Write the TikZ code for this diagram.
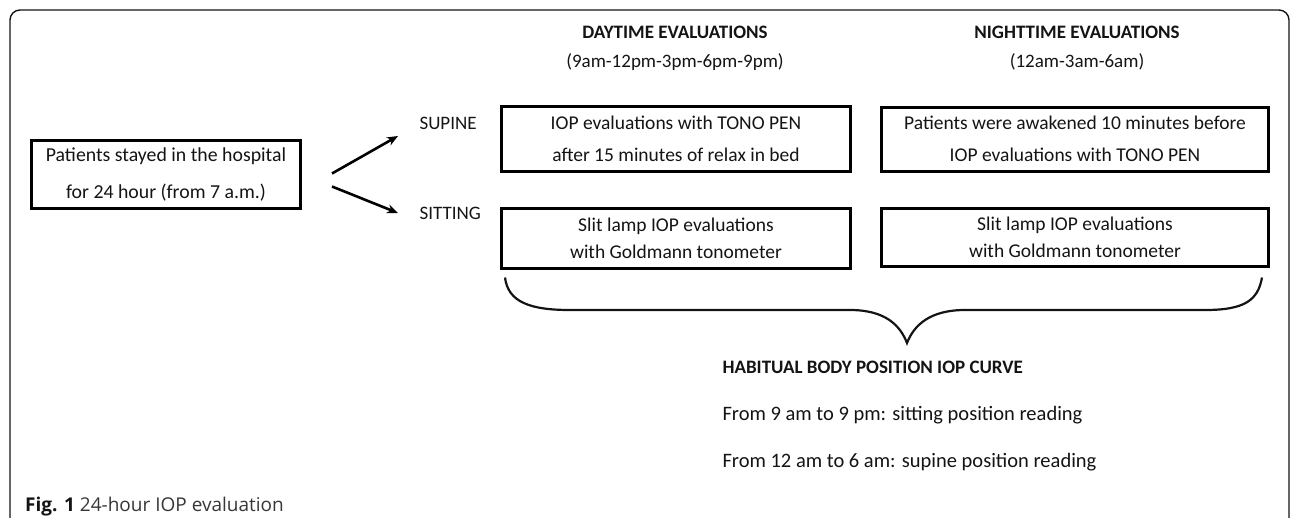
\documentclass[tikz,border=0pt]{standalone}
\usepackage{fontspec}
\setmainfont{Carlito}
\newfontfamily\capfont{Open Sans}
\usetikzlibrary{arrows.meta}
\definecolor{ink}{HTML}{141414}
\tikzset{
  box/.style={draw, line width=3pt, align=center, inner sep=0pt, text=ink},
  lbl/.style={text=ink, font=\fontsize{19}{20}\selectfont},
  arr/.style={line width=2.6pt, -{Stealth[length=11pt,width=9pt]}},
}
\begin{document}
\begin{tikzpicture}[x=1pt, y=-1pt]
	\useasboundingbox (0,0) rectangle (1290,517);
	\draw[line width=1.4pt, rounded corners=10pt, ink] (10,520) -- (10,10) -- (1289,10) -- (1289,520);
	% column headers
	\node[lbl, align=center, font=\fontsize{19}{29}\selectfont] (dayhead) at (675,48) {\textbf{DAYTIME EVALUATIONS}\\(9am-12pm-3pm-6pm-9pm)};
	\node[lbl, align=center, font=\fontsize{19}{29}\selectfont] (nighthead) at (1077,48) {\textbf{NIGHTTIME EVALUATIONS}\\(12am-3am-6am)};
	% boxes
	\node[box, minimum width=269, minimum height=68, font=\fontsize{19.8}{37}\selectfont] (stay) at (166,174.5) {Patients stayed in the hospital\\for 24 hour (from 7 a.m.)};
	\node[lbl, anchor=west] (supine) at (416,123) {SUPINE};
	\node[lbl, anchor=west] (sitting) at (416,213) {SITTING};
	\node[box, minimum width=349, minimum height=65, font=\fontsize{19.5}{32}\selectfont] (daysup) at (676,139) {IOP evaluations with TONO PEN\\after 15 minutes of relax in bed};
	\node[box, minimum width=349, minimum height=60, font=\fontsize{19.5}{27}\selectfont] (daysit) at (676,238) {Slit lamp IOP evaluations\\with Goldmann tonometer};
	\node[box, minimum width=387, minimum height=64, font=\fontsize{19.5}{32}\selectfont] (nightsup) at (1075,139) {Patients were awakened 10 minutes before\\IOP evaluations with TONO PEN};
	\node[box, minimum width=387, minimum height=58, font=\fontsize{19.5}{27}\selectfont] (nightsit) at (1075,237) {Slit lamp IOP evaluations\\with Goldmann tonometer};
	\draw[arr] ([xshift=30pt,yshift=1pt]stay.east) -- ([xshift=-18pt,yshift=-13pt]supine.west);
	\draw[arr] ([xshift=30pt,yshift=-12pt]stay.east) -- ([xshift=-18pt]sitting.west);
	% brace
	\coordinate (tip) at (907,343);
	\draw[line width=2.2pt, ink] ([xshift=5pt,yshift=-8pt]daysit.south west) .. controls (508,302) and (530,310) .. (570,310) -- (850,310) .. controls (885,310) and (900,325) .. (tip) .. controls (914,325) and (930,310) .. (965,310) -- (1205,310) .. controls (1245,310) and (1258,300) .. ([xshift=-8pt,yshift=-10pt]nightsit.south east);
	% curve text
	\node[lbl, anchor=west] (habit) at (719,367) {\textbf{HABITUAL BODY POSITION IOP CURVE}};
	\node[lbl, anchor=west, font=\fontsize{20.5}{20}\selectfont] (dayread) at (719,415) {From 9 am to 9 pm: sitting position reading};
	\node[lbl, anchor=west, font=\fontsize{20.5}{20}\selectfont] (nightread) at (719,462) {From 12 am to 6 am: supine position reading};
	\node[anchor=west, inner sep=0pt, text=ink, font=\capfont\fontsize{19}{20}\selectfont] (caption) at (25,507) {\textbf{Fig. 1} {\color{ink!85}24-hour IOP evaluation}};
\end{tikzpicture}
\end{document}
